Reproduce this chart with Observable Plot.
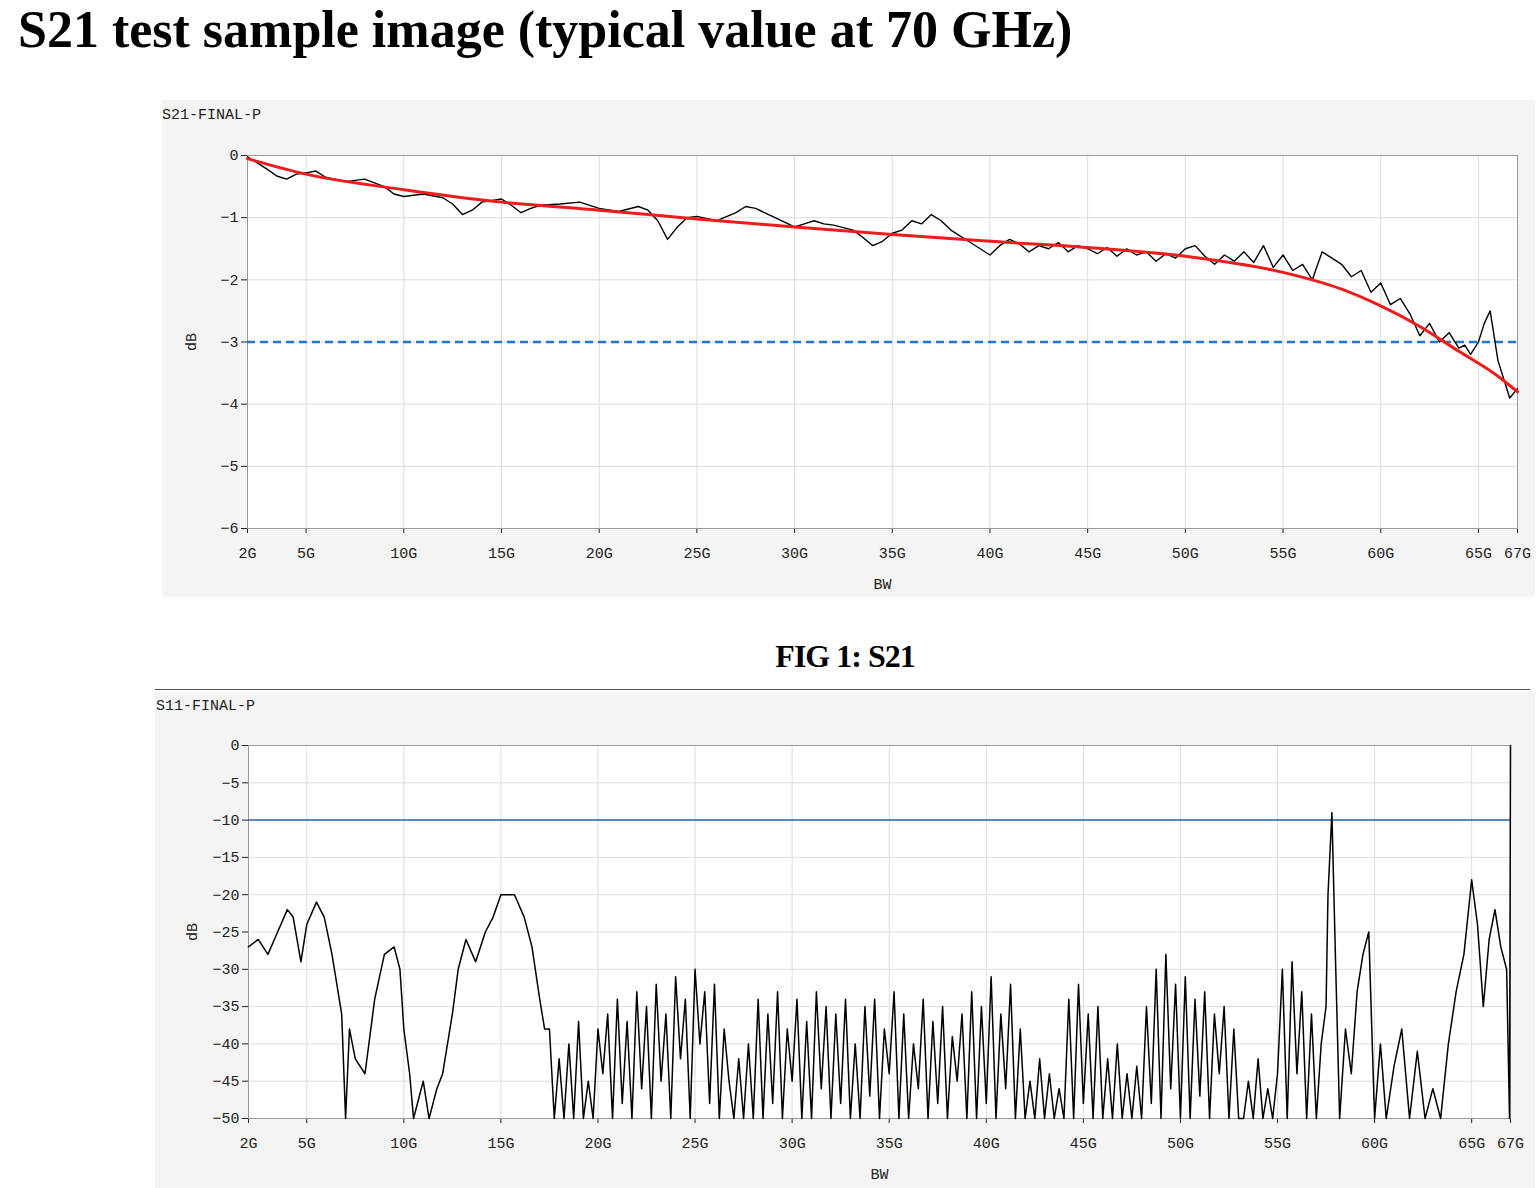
<!DOCTYPE html>
<html><head><meta charset="utf-8">
<script src="https://cdn.jsdelivr.net/npm/d3@7"></script>
<script src="https://cdn.jsdelivr.net/npm/@observablehq/plot@0.6"></script>
<style>
body{margin:0;background:#fff;width:1540px;height:1188px;position:relative;overflow:hidden}
.t{position:absolute;left:18px;top:0px;font:bold 52px "Liberation Serif",serif;color:#000}
.panel{position:absolute;background:#f4f4f4}
.pl{position:absolute;font:15px "Liberation Mono",monospace;color:#222}
.cap{position:absolute;left:0;width:1690px;text-align:center;top:638px;font:bold 32px "Liberation Serif",serif;letter-spacing:-1px}
.hr{position:absolute;left:155px;top:689px;width:1375px;height:1px;background:#555}
svg text{font-family:"Liberation Mono",monospace}
</style></head><body>
<div class="t">S21 test sample image (typical value at 70 GHz)</div>
<div class="panel" id="p1" style="left:162px;top:100px;width:1373px;height:497px"></div>
<div class="pl" style="left:162px;top:107px">S21-FINAL-P</div>
<div class="cap">FIG 1: S21</div>
<div class="hr"></div>
<div class="panel" id="p2" style="left:155px;top:692px;width:1380px;height:496px"></div>
<div class="pl" style="left:156px;top:698px">S11-FINAL-P</div>
<script>
const xTicks=[2,5,10,15,20,25,30,35,40,45,50,55,60,65,67];
const s21Freq=[2,2.5,3,3.5,4,4.5,5,5.5,6,7,8,9,9.5,10,11,12,12.5,13,13.5,14,15,15.5,16,16.5,17,18,19,20,21,22,22.5,23,23.5,24,24.5,25,26,27,27.5,28,29,30,30.5,31,31.5,32,33,33.5,34,34.5,35,35.5,36,36.5,37,37.5,38,38.5,39,39.5,40,40.5,41,41.5,42,42.5,43,43.5,44,44.5,45,45.5,46,46.5,47,47.5,48,48.5,49,49.5,50,50.5,51,51.5,52,52.5,53,53.5,54,54.5,55,55.5,56,56.5,57,57.5,58,58.5,59,59.5,60,60.5,61,61.5,62,62.5,63,63.5,64,64.3,64.6,65,65.3,65.6,66,66.3,66.6,67];
const s21Val=[-0.02,-0.12,-0.22,-0.33,-0.38,-0.3,-0.28,-0.25,-0.35,-0.42,-0.38,-0.5,-0.62,-0.66,-0.62,-0.68,-0.78,-0.95,-0.88,-0.75,-0.7,-0.8,-0.92,-0.85,-0.8,-0.78,-0.75,-0.85,-0.9,-0.82,-0.88,-1.05,-1.35,-1.15,-1.0,-0.98,-1.05,-0.92,-0.82,-0.85,-1.0,-1.15,-1.1,-1.05,-1.1,-1.12,-1.2,-1.32,-1.45,-1.38,-1.25,-1.2,-1.05,-1.1,-0.95,-1.05,-1.2,-1.3,-1.4,-1.5,-1.6,-1.45,-1.35,-1.42,-1.55,-1.45,-1.5,-1.4,-1.55,-1.45,-1.5,-1.58,-1.48,-1.62,-1.5,-1.6,-1.55,-1.7,-1.58,-1.65,-1.5,-1.45,-1.62,-1.75,-1.6,-1.7,-1.55,-1.72,-1.45,-1.8,-1.6,-1.85,-1.75,-2.0,-1.55,-1.65,-1.75,-1.95,-1.85,-2.2,-2.05,-2.4,-2.3,-2.55,-2.9,-2.7,-3.0,-2.85,-3.1,-3.05,-3.2,-3.0,-2.7,-2.5,-3.3,-3.6,-3.9,-3.75,-4.1,-3.6,-3.5,-3.0,-3.4];
const fitFreq=[2,5,10,15,20,25,30,35,40,45,50,55,58,60,62,64,66,67];
const fitVal=[-0.05,-0.3,-0.55,-0.75,-0.88,-1.02,-1.15,-1.27,-1.38,-1.48,-1.62,-1.88,-2.15,-2.42,-2.75,-3.15,-3.55,-3.8];
const s21Limit=-3;

const s11HeadF=[2,2.5,3,3.5,4,4.3,4.7,5,5.5,5.9,6.3,6.8,7,7.2,7.5,8,8.5,9,9.5,9.8,10,10.3,10.5,11,11.3,11.7,12,12.5,12.8,13.2,13.7,14.2,14.6,15,15.4,15.7,16.2,16.6,17,17.25];
const s11HeadV=[-27,-26,-28,-25,-22,-23,-29,-24,-21,-23,-28,-36,-50,-38,-42,-44,-34,-28,-27,-30,-38,-44,-50,-45,-50,-46,-44,-36,-30,-26,-29,-25,-23,-20,-20,-20,-23,-27,-34,-38];
const s11NoiseStart=17.5, s11NoiseStep=0.25;
const s11Noise=[-38,-50,-42,-50,-40,-50,-37,-50,-45,-50,-38,
-44,-36,-50,-34,-48,-37,-50,-33,-46,-35,-50,-32,-45,-36,-50,-31,-42,-34,-50,-30,-40,-33,-48,-32,
-50,-38,-45,-50,-42,-50,-40,-50,
-34,-50,-36,-48,-33,-50,-38,-45,-34,-50,-37,-50,-33,-46,-35,-50,-36,-48,-34,-50,
-40,-50,-35,-47,-34,-50,-38,-44,-33,-50,-36,-50,-40,-46,-34,-50,-37,-48,-35,-50,-39,-45,-36,-50,
-33,-50,-35,-48,-31,-50,-36,-46,-32,-50,-38,-50,
-45,-50,-42,-50,-44,-50,-46,-50,
-34,-50,-32,-48,-36,-50,-35,-50,
-42,-50,-40,-50,-44,-50,-43,-50,
-35,-48,-30,-50,-28,-46,-32,-50,
-31,-50,-34,-47,-33,-50,-36,-44,-35,-50,-38,-50,
-50,-45,-50,-42,-50,-46,-50,-44,
-30,-50,-29,-44,-33,-50,-36,-50,-40,-35];
const s11TailF=[57.6,57.8,58,58.2,58.5,58.8,59.1,59.4,59.7,60,60.3,60.6,61,61.4,61.8,62.2,62.6,63,63.4,63.8,64.2,64.6,65,65.3,65.6,65.9,66.2,66.5,66.8,66.95,67];
const s11TailV=[-20,-9,-30,-50,-38,-44,-33,-28,-25,-50,-40,-50,-43,-38,-50,-41,-50,-46,-50,-40,-33,-28,-18,-24,-35,-26,-22,-27,-30,-50,0];
const s11Limit=-10;

const s21=s21Freq.map((f,i)=>({f,v:s21Val[i]}));
const fit=fitFreq.map((f,i)=>({f,v:fitVal[i]}));
const s11=[...s11HeadF.map((f,i)=>({f,v:s11HeadV[i]})),
 ...s11Noise.map((v,i)=>({f:s11NoiseStart+i*s11NoiseStep,v})),
 ...s11TailF.map((f,i)=>({f,v:s11TailV[i]}))];

function chart(o){
  return Plot.plot({
    width:o.w,height:o.h,marginLeft:o.ml,marginTop:o.mt,marginRight:o.mr,marginBottom:o.mb,
    style:{background:"transparent",fontSize:"15px",color:"#222"},
    x:{domain:[2,67],ticks:xTicks,tickFormat:d=>d+"G",label:"BW",labelAnchor:"center",labelArrow:false,labelOffset:60,tickSize:5,tickPadding:14},
    y:{domain:o.yd,ticks:o.yt,label:"dB",labelAnchor:"center",labelArrow:false,labelOffset:62,tickSize:6,tickFormat:d=>d===0?"0":"−"+Math.abs(d)},
    marks:[
      Plot.frame({fill:"white"}),
      Plot.gridX(xTicks,{stroke:"#ddd",strokeOpacity:1}),
      Plot.gridY(o.yt,{stroke:"#ddd",strokeOpacity:1}),
      Plot.frame({stroke:"#999"}),
      ...o.marks
    ]
  });
}
const c1=chart({w:1373,h:497,ml:85,mt:55,mr:18,mb:69,yd:[-6,0],yt:[0,-1,-2,-3,-4,-5,-6],marks:[
  Plot.ruleY([s21Limit],{stroke:"#1f77d0",strokeWidth:2.5,strokeDasharray:"8,5"}),
  Plot.line(s21,{x:"f",y:"v",stroke:"black",strokeWidth:1.4}),
  Plot.line(fit,{x:"f",y:"v",stroke:"#ee1c1c",strokeWidth:3,curve:"monotone-x"})
]});
document.getElementById("p1").appendChild(c1);
const c2=chart({w:1380,h:496,ml:93,mt:53,mr:25,mb:70,yd:[-50,0],yt:d3.range(0,-51,-5),marks:[
  Plot.ruleY([s11Limit],{stroke:"#2b65b0",strokeWidth:1.5}),
  Plot.line(s11,{x:"f",y:"v",stroke:"black",strokeWidth:1.5})
]});
document.getElementById("p2").appendChild(c2);
</script></body></html>
